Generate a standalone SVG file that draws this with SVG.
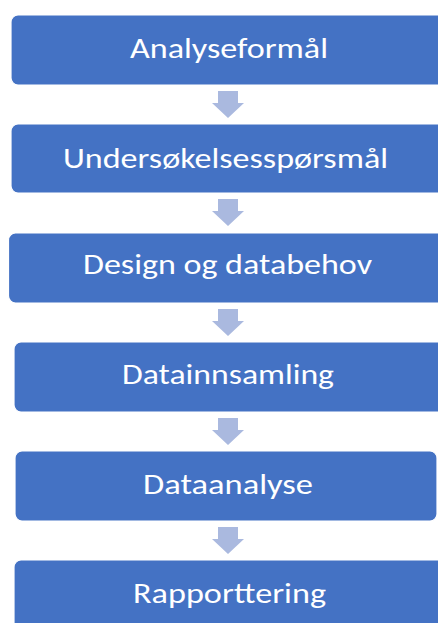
<svg xmlns="http://www.w3.org/2000/svg" width="438" height="623" viewBox="0 0 438 623">
<style>
.box{fill:#4472C4;stroke:#ffffff;stroke-width:1.2}
.lbl{fill:#ffffff;font-family:Carlito,Calibri,Lato,"Open Sans",sans-serif;font-size:29px;text-anchor:middle}
.arr{fill:#AAB9DF}
</style>
<defs>
<path id="arrow" d="M218,0 H238 V12 H244 L228,27 L212,12 H218 Z"/>
</defs>
<rect width="438" height="623" fill="#ffffff"/>
<g id="connectors">
<use href="#arrow" class="arr" y="91"/>
<use href="#arrow" class="arr" y="199"/>
<use href="#arrow" class="arr" y="309"/>
<use href="#arrow" class="arr" y="418"/>
<use href="#arrow" class="arr" y="527"/>
</g>
<g id="n1">
<rect class="box" x="11" y="15" width="436" height="70" rx="7"/>
<text class="lbl" x="229" y="58" textLength="198" lengthAdjust="spacingAndGlyphs">Analyseformål</text>
</g>
<g id="n2">
<rect class="box" x="11" y="124" width="436" height="69" rx="7"/>
<text class="lbl" x="225.5" y="168" textLength="325" lengthAdjust="spacingAndGlyphs">Undersøkelsesspørsmål</text>
</g>
<g id="n3">
<rect class="box" x="8.5" y="233" width="438" height="70" rx="7"/>
<text class="lbl" x="227.5" y="274" textLength="289" lengthAdjust="spacingAndGlyphs">Design og databehov</text>
</g>
<g id="n4">
<rect class="box" x="14" y="342" width="432" height="70" rx="7"/>
<text class="lbl" x="228" y="384" textLength="212" lengthAdjust="spacingAndGlyphs">Datainnsamling</text>
</g>
<g id="n5">
<rect class="box" x="15" y="451" width="422" height="70" rx="7"/>
<text class="lbl" x="228" y="494" textLength="170" lengthAdjust="spacingAndGlyphs">Dataanalyse</text>
</g>
<g id="n6">
<rect class="box" x="14" y="560" width="432" height="72" rx="7"/>
<text class="lbl" x="229.5" y="603" textLength="193" lengthAdjust="spacingAndGlyphs">Rapporttering</text>
</g>
</svg>
